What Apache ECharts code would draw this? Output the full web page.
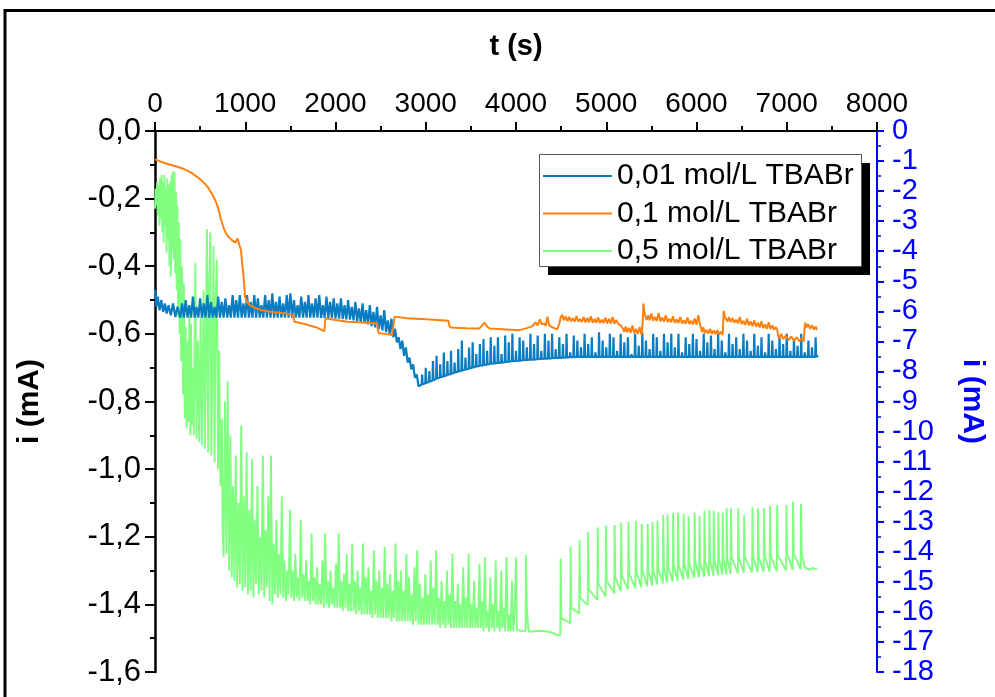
<!DOCTYPE html>
<html><head><meta charset="utf-8">
<script src="https://cdn.jsdelivr.net/npm/echarts@6/dist/echarts.min.js"></script>
<style>html,body{margin:0;padding:0;background:#fff}#c{width:995px;height:697px}</style>
</head><body><div id="c"></div>
<script>
const seriesNames = ['0,01 mol/L TBABr', '0,1 mol/L TBABr', '0,5 mol/L TBABr'];
const xTitle = 't (s)';
const yTitle = 'i (mA)';

// 0,01 mol/L TBABr  [t (s), i (mA)]
const blue = [
[0,-0.47],[15,-0.52],[30,-0.49],[50,-0.53],[70,-0.50],[90,-0.535],[110,-0.51],[130,-0.54],[150,-0.515],[175,-0.545],[200,-0.51],[225,-0.55],[250,-0.52],[280,-0.552],[300,-0.51],
[320,-0.552],[340,-0.50],[360,-0.552],[380,-0.515],[400,-0.552],[420,-0.49],[440,-0.552],[460,-0.52],[480,-0.552],[500,-0.495],[520,-0.552],[540,-0.51],[560,-0.552],[580,-0.485],[600,-0.552],[620,-0.505],[640,-0.552],[660,-0.52],[680,-0.552],[700,-0.49],[720,-0.552],[740,-0.505],[760,-0.552],[780,-0.495],[800,-0.552],[820,-0.515],[840,-0.552],[860,-0.485],[880,-0.552],[900,-0.50],[920,-0.552],[940,-0.485],[960,-0.552],[980,-0.51],[1000,-0.552],[1020,-0.485],[1040,-0.552],[1060,-0.505],[1080,-0.552],[1100,-0.485],[1120,-0.552],[1140,-0.495],[1160,-0.552],[1180,-0.515],[1200,-0.552],[1220,-0.485],[1240,-0.552],[1260,-0.50],[1280,-0.552],[1300,-0.48],[1320,-0.552],[1340,-0.505],[1360,-0.552],[1380,-0.49],[1400,-0.552],[1420,-0.51],[1440,-0.552],[1460,-0.485],[1480,-0.552],[1500,-0.48],[1520,-0.552],[1540,-0.50],[1560,-0.552],[1580,-0.515],[1600,-0.552],[1620,-0.49],[1640,-0.552],[1660,-0.505],[1680,-0.552],[1700,-0.485],[1720,-0.552],[1740,-0.51],[1760,-0.552],[1780,-0.495],[1800,-0.552],[1820,-0.485],[1840,-0.553],[1860,-0.515],[1880,-0.553],[1900,-0.49],[1920,-0.553],[1940,-0.505],[1960,-0.553],[1980,-0.495],[2000,-0.555],[2020,-0.51],[2040,-0.555],[2060,-0.495],[2080,-0.556],[2100,-0.515],[2120,-0.557],[2140,-0.50],[2160,-0.558],[2180,-0.52],[2200,-0.56],[2220,-0.505],[2240,-0.562],[2260,-0.525],[2280,-0.565],[2300,-0.51],[2320,-0.568],[2340,-0.53],[2360,-0.572],[2380,-0.515],[2400,-0.577],[2420,-0.535],[2440,-0.581],[2460,-0.52],[2480,-0.586],[2500,-0.545],[2520,-0.59],[2540,-0.53],[2560,-0.595],[2580,-0.56],[2600,-0.60],
[2620,-0.555],[2640,-0.61],[2660,-0.585],[2680,-0.625],[2700,-0.61],[2720,-0.645],[2740,-0.62],[2760,-0.665],[2780,-0.64],[2800,-0.685],[2820,-0.67],[2840,-0.705],[2860,-0.69],[2880,-0.73],[2900,-0.72],[2920,-0.755],
[2955,-0.75],[2960,-0.72],[2965,-0.749],[2995,-0.746],[3000,-0.70],[3005,-0.745],[3035,-0.742],[3040,-0.71],[3045,-0.741],[3075,-0.738],[3080,-0.68],[3085,-0.737],
[3115,-0.733],[3120,-0.665],[3125,-0.732],[3155,-0.729],[3160,-0.69],[3165,-0.728],[3195,-0.726],[3200,-0.655],[3205,-0.725],[3235,-0.722],[3240,-0.68],[3245,-0.721],
[3275,-0.719],[3280,-0.65],[3285,-0.718],[3315,-0.715],[3320,-0.685],[3325,-0.714],[3355,-0.712],[3360,-0.645],[3365,-0.711],[3395,-0.709],[3400,-0.62],[3405,-0.708],
[3435,-0.706],[3440,-0.67],[3445,-0.705],[3475,-0.703],[3480,-0.64],[3485,-0.702],[3515,-0.70],[3520,-0.625],[3525,-0.699],[3555,-0.697],[3560,-0.66],[3565,-0.696],
[3595,-0.695],[3600,-0.63],[3605,-0.694],[3635,-0.693],[3640,-0.615],[3645,-0.692],[3675,-0.691],[3680,-0.65],[3685,-0.690],[3715,-0.689],[3720,-0.61],[3725,-0.688],
[3755,-0.687],[3760,-0.635],[3765,-0.687],[3795,-0.686],[3800,-0.61],[3805,-0.686],[3835,-0.685],[3840,-0.66],[3845,-0.685],[3875,-0.684],[3880,-0.605],[3885,-0.684],
[3915,-0.682],[3920,-0.625],[3925,-0.682],[3955,-0.681],[3960,-0.60],[3965,-0.681],[3995,-0.68],[4000,-0.65],[4005,-0.68],[4035,-0.679],[4040,-0.61],[4045,-0.679],
[4075,-0.678],[4080,-0.62],[4085,-0.678],[4115,-0.677],[4120,-0.64],[4125,-0.677],[4155,-0.676],[4160,-0.60],[4165,-0.676],[4195,-0.676],[4200,-0.63],[4205,-0.676],
[4235,-0.675],[4240,-0.605],[4245,-0.675],[4275,-0.674],[4280,-0.65],[4285,-0.674],[4315,-0.673],[4320,-0.60],[4325,-0.673],[4355,-0.673],[4360,-0.62],[4365,-0.673],
[4395,-0.672],[4400,-0.60],[4405,-0.672],[4435,-0.671],[4440,-0.645],[4445,-0.671],[4475,-0.671],[4480,-0.61],[4485,-0.671],[4515,-0.67],[4520,-0.63],[4525,-0.67],
[4555,-0.67],[4560,-0.60],[4565,-0.67],[4595,-0.669],[4600,-0.655],[4605,-0.669],[4635,-0.669],[4640,-0.605],[4645,-0.669],[4675,-0.668],[4680,-0.62],[4685,-0.668],
[4715,-0.668],[4720,-0.64],[4725,-0.668],[4755,-0.668],[4760,-0.60],[4765,-0.668],[4795,-0.668],[4800,-0.63],[4805,-0.668],[4835,-0.668],[4840,-0.61],[4845,-0.668],
[4875,-0.668],[4880,-0.655],[4885,-0.668],[4915,-0.668],[4920,-0.595],[4925,-0.668],[4955,-0.668],[4960,-0.62],[4965,-0.668],[4995,-0.668],[5000,-0.64],[5005,-0.668],
[5035,-0.668],[5040,-0.60],[5045,-0.668],[5075,-0.668],[5080,-0.61],[5085,-0.668],[5115,-0.668],[5120,-0.65],[5125,-0.668],[5155,-0.668],[5160,-0.60],[5165,-0.668],
[5195,-0.668],[5200,-0.625],[5205,-0.668],[5235,-0.668],[5240,-0.61],[5245,-0.668],[5275,-0.668],[5280,-0.66],[5285,-0.668],[5315,-0.668],[5320,-0.60],[5325,-0.668],
[5355,-0.668],[5360,-0.635],[5365,-0.668],[5395,-0.668],[5400,-0.595],[5405,-0.668],[5435,-0.668],[5440,-0.62],[5445,-0.668],[5475,-0.668],[5480,-0.645],[5485,-0.668],
[5515,-0.668],[5520,-0.60],[5525,-0.668],[5555,-0.668],[5560,-0.61],[5565,-0.668],[5595,-0.668],[5600,-0.65],[5605,-0.668],[5635,-0.668],[5640,-0.60],[5645,-0.668],
[5675,-0.668],[5680,-0.625],[5685,-0.668],[5715,-0.668],[5720,-0.60],[5725,-0.668],[5755,-0.668],[5760,-0.64],[5765,-0.668],[5795,-0.668],[5800,-0.60],[5805,-0.668],
[5835,-0.668],[5840,-0.655],[5845,-0.668],[5875,-0.668],[5880,-0.61],[5885,-0.668],[5915,-0.668],[5920,-0.63],[5925,-0.668],[5955,-0.668],[5960,-0.60],[5965,-0.668],
[5995,-0.668],[6000,-0.615],[6005,-0.668],[6035,-0.668],[6040,-0.65],[6045,-0.668],[6075,-0.668],[6080,-0.60],[6085,-0.668],[6115,-0.668],[6120,-0.625],[6125,-0.668],
[6155,-0.668],[6160,-0.605],[6165,-0.668],[6195,-0.668],[6200,-0.645],[6205,-0.668],[6235,-0.668],[6240,-0.60],[6245,-0.668],[6275,-0.668],[6280,-0.62],[6285,-0.668],
[6315,-0.668],[6320,-0.655],[6325,-0.668],[6355,-0.668],[6360,-0.60],[6365,-0.668],[6395,-0.668],[6400,-0.63],[6405,-0.668],[6435,-0.668],[6440,-0.61],[6445,-0.668],
[6475,-0.668],[6480,-0.645],[6485,-0.668],[6515,-0.668],[6520,-0.60],[6525,-0.668],[6555,-0.668],[6560,-0.62],[6565,-0.668],[6595,-0.668],[6600,-0.65],[6605,-0.668],
[6635,-0.668],[6640,-0.60],[6645,-0.668],[6675,-0.668],[6680,-0.635],[6685,-0.668],[6715,-0.668],[6720,-0.61],[6725,-0.668],[6755,-0.668],[6760,-0.655],[6765,-0.668],
[6795,-0.668],[6800,-0.60],[6805,-0.668],[6835,-0.668],[6840,-0.62],[6845,-0.668],[6875,-0.668],[6880,-0.645],[6885,-0.668],[6915,-0.668],[6920,-0.605],[6925,-0.668],
[6955,-0.668],[6960,-0.63],[6965,-0.668],[6995,-0.668],[7000,-0.60],[7005,-0.668],[7035,-0.668],[7040,-0.65],[7045,-0.668],[7075,-0.668],[7080,-0.615],[7085,-0.668],
[7115,-0.668],[7120,-0.635],[7125,-0.668],[7155,-0.668],[7160,-0.60],[7165,-0.668],[7195,-0.668],[7200,-0.655],[7205,-0.668],[7235,-0.668],[7240,-0.62],[7245,-0.668],
[7275,-0.668],[7280,-0.64],[7285,-0.668],[7315,-0.668],[7320,-0.61],[7325,-0.668],[7350,-0.665]
];

// 0,1 mol/L TBABr
const orange = [
[0,-0.084],[60,-0.09],[120,-0.096],[200,-0.102],[300,-0.11],[400,-0.123],[484,-0.139],[550,-0.155],[593,-0.169],[640,-0.19],[667,-0.204],[700,-0.228],[722,-0.253],[750,-0.278],[777,-0.298],[810,-0.312],[850,-0.322],[890,-0.33],[905,-0.334],[915,-0.318],[923,-0.313],[932,-0.335],[953,-0.352],[965,-0.39],[978,-0.42],[990,-0.46],[997,-0.49],[1020,-0.505],[1051,-0.515],[1100,-0.522],[1179,-0.53],[1300,-0.535],[1436,-0.539],[1528,-0.544],[1537,-0.549],[1546,-0.564],[1600,-0.567],[1700,-0.574],[1800,-0.582],[1876,-0.592],[1885,-0.562],[1894,-0.554],[2000,-0.559],[2132,-0.564],[2300,-0.566],[2462,-0.569],[2470,-0.59],[2480,-0.598],[2550,-0.6],[2627,-0.603],[2645,-0.57],[2656,-0.549],[2674,-0.547],[2791,-0.554],[3000,-0.557],[3250,-0.561],[3260,-0.575],[3275,-0.581],[3450,-0.583],[3597,-0.584],[3625,-0.575],[3652,-0.567],[3680,-0.578],[3707,-0.584],[3850,-0.586],[4037,-0.589],[4120,-0.583],[4184,-0.577],[4215,-0.566],[4240,-0.575],[4264,-0.557],[4285,-0.572],[4311,-0.569],[4330,-0.576],[4348,-0.549],[4370,-0.576],[4400,-0.58],[4430,-0.584],[4458,-0.586],[4480,-0.57],[4495,-0.55],[4513,-0.544],[4530,-0.56],[4550,-0.548],[4570,-0.562],[4590,-0.55],[4610,-0.563],[4630,-0.554],[4650,-0.564],[4670,-0.547],[4690,-0.564],[4710,-0.556],[4730,-0.565],[4750,-0.55],[4770,-0.566],[4790,-0.553],[4810,-0.566],[4830,-0.548],[4850,-0.567],[4870,-0.556],[4890,-0.567],[4910,-0.551],[4930,-0.568],[4950,-0.558],[4970,-0.568],[4990,-0.552],[5010,-0.569],[5030,-0.556],[5050,-0.569],[5070,-0.55],[5090,-0.57],[5110,-0.559],[5136,-0.571],[5160,-0.575],[5185,-0.585],[5200,-0.594],[5215,-0.578],[5230,-0.595],[5250,-0.582],[5270,-0.597],[5290,-0.575],[5310,-0.598],[5330,-0.585],[5350,-0.6],[5370,-0.58],[5392,-0.603],[5405,-0.56],[5411,-0.51],[5425,-0.54],[5448,-0.559],[5465,-0.545],[5480,-0.56],[5500,-0.54],[5520,-0.561],[5540,-0.55],[5560,-0.562],[5580,-0.538],[5600,-0.563],[5620,-0.552],[5640,-0.564],[5660,-0.545],[5680,-0.565],[5700,-0.555],[5720,-0.566],[5740,-0.548],[5760,-0.567],[5780,-0.557],[5800,-0.568],[5820,-0.55],[5840,-0.569],[5860,-0.56],[5880,-0.57],[5900,-0.552],[5920,-0.571],[5940,-0.561],[5960,-0.572],[5980,-0.555],[6000,-0.573],[6020,-0.545],[6040,-0.574],[6052,-0.576],[6062,-0.594],[6075,-0.58],[6090,-0.598],[6110,-0.588],[6130,-0.599],[6150,-0.585],[6170,-0.6],[6190,-0.59],[6210,-0.601],[6230,-0.589],[6250,-0.602],[6270,-0.594],[6290,-0.603],[6297,-0.56],[6301,-0.532],[6315,-0.55],[6345,-0.563],[6360,-0.55],[6380,-0.565],[6400,-0.553],[6420,-0.567],[6440,-0.558],[6460,-0.569],[6480,-0.55],[6500,-0.571],[6520,-0.562],[6540,-0.573],[6560,-0.555],[6580,-0.575],[6600,-0.563],[6620,-0.577],[6640,-0.56],[6660,-0.579],[6680,-0.567],[6700,-0.581],[6720,-0.563],[6740,-0.583],[6760,-0.572],[6780,-0.585],[6800,-0.566],[6820,-0.586],[6840,-0.575],[6860,-0.588],[6880,-0.58],[6895,-0.589],[6905,-0.605],[6913,-0.613],[6940,-0.6],[6960,-0.616],[6990,-0.605],[7020,-0.618],[7050,-0.608],[7080,-0.62],[7110,-0.61],[7140,-0.622],[7170,-0.612],[7187,-0.623],[7197,-0.585],[7206,-0.567],[7220,-0.58],[7240,-0.572],[7260,-0.585],[7280,-0.574],[7300,-0.587],[7320,-0.578],[7334,-0.589]
];

// 0,5 mol/L TBABr
const green = [
[0,-0.23],[8,-0.17],[16,-0.22],[24,-0.15],[32,-0.25],[40,-0.16],[48,-0.28],[56,-0.14],[64,-0.26],[72,-0.13],[80,-0.30],[88,-0.15],[96,-0.33],[104,-0.13],[112,-0.28],[120,-0.17],[128,-0.36],[136,-0.14],[144,-0.32],[152,-0.16],[160,-0.40],[168,-0.15],[176,-0.43],[184,-0.13],[192,-0.35],[200,-0.12],[208,-0.38],[216,-0.12],[224,-0.42],[232,-0.18],[240,-0.47],[248,-0.22],[256,-0.55],[264,-0.27],[272,-0.6],[280,-0.32],[290,-0.68],[300,-0.40],[310,-0.78],[320,-0.45],[330,-0.85],[340,-0.58],[350,-0.88],[360,-0.62],[370,-0.86],[380,-0.52],[392,-0.90],[400,-0.57],[410,-0.87],[420,-0.70],[430,-0.90],[447,-0.39],[460,-0.91],[475,-0.62],[490,-0.92],[505,-0.55],[520,-0.93],[539,-0.47],[555,-0.94],[575,-0.29],[590,-0.95],[600,-0.45],[612,-0.30],[625,-0.96],[640,-0.58],[648,-0.34],[660,-0.98],[672,-0.50],[685,-0.38],[698,-1.00],[711,-0.65],[725,-1.05],[740,-0.85],[750,-1.19],
[760,-1.26],[775,-0.80],[790,-1.25],[805,-0.74],[820,-1.30],[835,-0.90],[850,-1.32],[865,-1.05],[880,-1.33],[895,-0.96],[910,-1.35],[925,-1.10],[940,-1.34],[955,-0.87],[970,-1.36],[985,-1.08],[1000,-1.35],[1015,-0.95],[1030,-1.37],[1045,-1.12],[1060,-1.36],[1075,-0.97],[1090,-1.38],[1105,-1.15],[1120,-1.34],[1135,-1.05],[1150,-1.37],[1165,-1.20],[1180,-1.36],[1195,-0.96],[1210,-1.38],[1225,-1.18],[1240,-1.35],[1255,-1.08],[1270,-1.39],[1285,-0.96],[1300,-1.40],[1315,-1.22],[1330,-1.37],[1345,-1.15],[1360,-1.38],[1375,-1.25],[1390,-1.37],[1405,-1.08],[1420,-1.38],[1435,-1.27],[1450,-1.39],[1465,-1.30],[1480,-1.37],[1495,-1.12],[1510,-1.38],[1525,-1.30],[1540,-1.39],[1555,-1.25],[1570,-1.38],[1585,-1.32],[1600,-1.39],[1615,-1.15],[1630,-1.38],[1645,-1.31],[1660,-1.39],[1675,-1.27],[1690,-1.39],[1705,-1.33],[1720,-1.40],[1735,-1.19],[1750,-1.39],[1765,-1.32],[1780,-1.40],[1795,-1.29],[1810,-1.40],[1825,-1.34],[1840,-1.40],[1855,-1.27],[1870,-1.41],[1885,-1.19],[1900,-1.40],[1915,-1.33],[1930,-1.41],[1945,-1.30],[1960,-1.40],[1975,-1.35],[1990,-1.41],[2005,-1.28],[2020,-1.41],[2035,-1.19],[2050,-1.41],[2065,-1.33],[2080,-1.42],[2095,-1.31],[2110,-1.41],[2125,-1.25],[2140,-1.42],[2155,-1.34],[2170,-1.42],[2185,-1.22],[2200,-1.42],[2215,-1.33],[2230,-1.43],[2245,-1.30],[2260,-1.42],[2275,-1.35],[2290,-1.43],[2305,-1.22],[2320,-1.43],[2335,-1.32],[2350,-1.43],[2365,-1.29],[2380,-1.43],[2395,-1.36],[2410,-1.44],[2425,-1.24],[2440,-1.43],[2455,-1.33],[2470,-1.44],[2485,-1.30],[2500,-1.44],[2515,-1.35],[2530,-1.44],[2545,-1.23],[2560,-1.44],[2575,-1.34],[2590,-1.44],[2605,-1.31],[2620,-1.45],[2635,-1.36],[2650,-1.44],[2665,-1.22],[2680,-1.45],[2695,-1.33],[2710,-1.45],[2725,-1.30],[2740,-1.45],[2755,-1.36],[2770,-1.45],[2785,-1.25],[2800,-1.45],[2815,-1.32],[2830,-1.45],[2845,-1.37],[2860,-1.46],[2875,-1.29],[2890,-1.45],[2905,-1.24],[2920,-1.46],[2935,-1.34],[2950,-1.46],[2965,-1.38],[2980,-1.46],[2995,-1.31],[3010,-1.46],[3025,-1.37],[3040,-1.46],[3055,-1.27],[3070,-1.46],[3085,-1.35],[3100,-1.46],[3115,-1.24],[3130,-1.46],[3145,-1.38],[3160,-1.47],[3175,-1.33],[3190,-1.46],[3205,-1.39],[3220,-1.47],[3235,-1.30],[3250,-1.46],[3265,-1.37],[3280,-1.47],[3295,-1.25],[3310,-1.47],[3325,-1.39],[3340,-1.47],[3355,-1.34],[3370,-1.47],[3385,-1.40],[3400,-1.47],[3415,-1.29],[3430,-1.47],[3445,-1.38],[3460,-1.47],[3475,-1.25],[3490,-1.47],[3505,-1.40],[3520,-1.47],[3535,-1.33],[3550,-1.47],[3565,-1.41],[3580,-1.47],[3595,-1.28],[3610,-1.47],[3625,-1.39],[3640,-1.48],[3655,-1.26],[3670,-1.47],[3685,-1.42],[3700,-1.48],[3715,-1.32],[3730,-1.47],[3745,-1.40],[3760,-1.48],[3775,-1.27],[3790,-1.47],[3805,-1.42],[3820,-1.48],[3835,-1.30],[3850,-1.47],[3865,-1.41],[3880,-1.48],[3895,-1.26],[3910,-1.48],[3925,-1.43],[3940,-1.48],[3955,-1.33],[3970,-1.48],[3985,-1.42],
[4000,-1.261],[4010,-1.476],[4050,-1.478],[4106,-1.479],[4110,-1.254],[4118,-1.40],[4135,-1.47],[4147,-1.481],[4250,-1.478],[4367,-1.481],[4420,-1.486],[4458,-1.491],
[4491,-1.491],[4495,-1.264],[4503,-1.44],[4601,-1.456],[4605,-1.229],[4613,-1.41],[4700,-1.427],[4704,-1.21],[4712,-1.38],[4795,-1.402],[4799,-1.185],[4807,-1.355],[4901,-1.387],[4905,-1.172],[4913,-1.34],[4993,-1.377],[4997,-1.167],[5005,-1.33],[5088,-1.367],[5092,-1.165],[5100,-1.32],[5161,-1.362],[5165,-1.158],[5173,-1.315],[5242,-1.356],[5246,-1.156],[5254,-1.31],[5323,-1.352],[5327,-1.153],[5335,-1.305],[5389,-1.349],[5393,-1.162],[5401,-1.30],[5455,-1.347],[5459,-1.162],[5467,-1.30],[5509,-1.344],[5513,-1.156],[5521,-1.30],[5564,-1.341],[5568,-1.153],[5576,-1.295],[5627,-1.338],[5631,-1.136],[5639,-1.29],[5675,-1.336],[5679,-1.134],[5687,-1.29],[5736,-1.333],[5740,-1.129],[5748,-1.285],[5791,-1.330],[5795,-1.129],[5803,-1.285],[5854,-1.327],[5858,-1.133],[5866,-1.28],[5909,-1.325],[5913,-1.139],[5921,-1.28],[5975,-1.322],[5979,-1.128],[5987,-1.275],[6029,-1.320],[6033,-1.139],[6041,-1.275],[6084,-1.318],[6088,-1.123],[6096,-1.27],[6139,-1.316],[6143,-1.121],[6151,-1.27],[6187,-1.315],[6191,-1.123],[6199,-1.27],[6238,-1.313],[6242,-1.128],[6250,-1.265],[6286,-1.312],[6290,-1.129],[6298,-1.265],[6330,-1.311],[6334,-1.116],[6342,-1.265],[6378,-1.310],[6382,-1.116],[6390,-1.26],[6458,-1.308],[6462,-1.116],[6470,-1.26],[6524,-1.307],[6528,-1.136],[6536,-1.26],[6616,-1.306],[6620,-1.113],[6628,-1.26],[6678,-1.305],[6682,-1.116],[6690,-1.26],[6744,-1.304],[6748,-1.116],[6756,-1.255],[6810,-1.303],[6814,-1.109],[6822,-1.255],[6890,-1.302],[6894,-1.106],[6902,-1.255],[6993,-1.300],[6997,-1.106],[7005,-1.25],[7066,-1.298],[7070,-1.096],[7078,-1.25],[7154,-1.296],[7158,-1.103],[7166,-1.25],[7200,-1.29],[7250,-1.298],[7290,-1.292],[7316,-1.296],[7335,-1.293]
];

const FONT = "'Liberation Sans', Arial, Helvetica, sans-serif";
const comma = v => (Math.abs(v) < 1e-9 ? 0 : v).toFixed(1).replace('.', ',');
const intLab = v => String(Math.round(v));

const chart = echarts.init(document.getElementById('c'), null, {renderer: 'canvas'});
chart.setOption({
  animation: false,
  backgroundColor: '#ffffff',
  grid: {left: 155, right: 111, top: 131, bottom: 25, containLabel: false},
  xAxis: {
    type: 'value', position: 'top', min: 0, max: 8000, interval: 1000,
    name: xTitle, nameLocation: 'middle', nameGap: 70,
    nameTextStyle: {fontFamily: FONT, fontSize: 29, fontWeight: 'bold', color: '#000'},
    axisLine: {show: true, onZero: false, lineStyle: {color: '#000', width: 2}},
    axisTick: {show: true, inside: false, length: 9, lineStyle: {color: '#000', width: 2}},
    minorTick: {show: true, splitNumber: 2, length: 5, lineStyle: {color: '#000', width: 2}},
    axisLabel: {fontFamily: FONT, fontSize: 28, color: '#000', margin: 13, formatter: intLab},
    splitLine: {show: false}
  },
  yAxis: [{
    type: 'value', position: 'left', min: -1.6, max: 0, interval: 0.2,
    name: yTitle, nameLocation: 'middle', nameGap: 110, nameRotate: 90,
    nameTextStyle: {fontFamily: FONT, fontSize: 30, fontWeight: 'bold', color: '#000'},
    axisLine: {show: true, onZero: false, lineStyle: {color: '#000', width: 2.5}},
    axisTick: {show: true, inside: false, length: 10, lineStyle: {color: '#000', width: 2}},
    minorTick: {show: true, splitNumber: 2, length: 5, lineStyle: {color: '#000', width: 2}},
    axisLabel: {fontFamily: FONT, fontSize: 31, color: '#000', margin: 14, formatter: comma},
    splitLine: {show: false}
  }, {
    type: 'value', position: 'right', min: -18, max: 0, interval: 1,
    name: yTitle, nameLocation: 'middle', nameGap: 80, nameRotate: -90,
    nameTextStyle: {fontFamily: FONT, fontSize: 30, fontWeight: 'bold', color: '#0000ff'},
    axisLine: {show: true, onZero: false, lineStyle: {color: '#0000ff', width: 2}},
    axisTick: {show: true, inside: false, length: 7, lineStyle: {color: '#0000ff', width: 2}},
    minorTick: {show: true, splitNumber: 2, length: 4, lineStyle: {color: '#0000ff', width: 1.5}},
    axisLabel: {fontFamily: FONT, fontSize: 29, color: '#0000ff', margin: 15, formatter: intLab},
    splitLine: {show: false}
  }],
  legend: {
    orient: 'vertical', left: 539, top: 157, padding: [4, 4, 4, 4], itemGap: 7.5,
    itemWidth: 69, itemHeight: 2, icon: 'rect', z: 10,
    textStyle: {fontFamily: FONT, fontSize: 30, color: '#000'},
    data: seriesNames
  },
  graphic: [
    {type: 'rect', z: 0, silent: true, shape: {x: 5, y: 10.5, width: 1000, height: 700}, style: {fill: 'none', stroke: '#000', lineWidth: 3}},
    {type: 'rect', z: 8, silent: true, shape: {x: 548, y: 163, width: 322, height: 112}, style: {fill: '#000'}},
    {type: 'rect', z: 9, silent: true, shape: {x: 539.5, y: 154.5, width: 322, height: 112}, style: {fill: '#fff', stroke: '#555', lineWidth: 1}}
  ],
  series: [
    {name: seriesNames[0], type: 'line', data: blue, yAxisIndex: 0, symbol: 'none', showSymbol: false, z: 3,
     lineStyle: {color: '#0a7dc2', width: 2.2}, itemStyle: {color: '#0a7dc2'}},
    {name: seriesNames[1], type: 'line', data: orange, yAxisIndex: 0, symbol: 'none', showSymbol: false, z: 4,
     lineStyle: {color: '#ff800e', width: 2}, itemStyle: {color: '#ff800e'}},
    {name: seriesNames[2], type: 'line', data: green, yAxisIndex: 0, symbol: 'none', showSymbol: false, z: 2,
     lineStyle: {color: '#80ff80', width: 1.9}, itemStyle: {color: '#80ff80'}}
  ]
});
</script>
</body></html>
